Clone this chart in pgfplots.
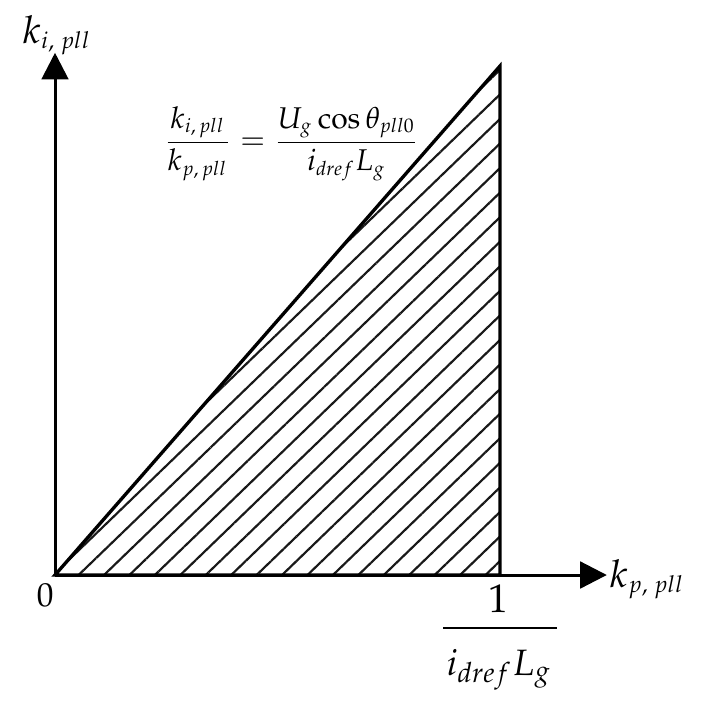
\documentclass[border=0pt]{standalone}
\usepackage{amsmath}
\usepackage{mathpazo}
\usepackage{pgfplots}
\pgfplotsset{compat=1.18}
\usetikzlibrary{arrows.meta, patterns.meta}
\DeclareMathSizes{11.5}{11.5}{7}{5}
\DeclareMathSizes{9}{9}{5.9}{4.5}

\begin{document}
\begin{tikzpicture}
\begin{axis}[
  x=133.5pt, y=152.7pt,
  xmin=0, xmax=1.240, ymin=0, ymax=1.026,
  axis lines=left,
  axis line style={line width=0.9pt, -{Triangle[width=8pt, length=8pt]}},
  xtick=\empty, ytick=\empty,
  clip=false
]
% stable region: triangle under k_i/k_p = U_g cos(theta)/(i_dref L_g)
\addplot[draw=black, line width=1pt,
  pattern={Lines[angle=44, distance=5.3pt, line width=0.65pt]}, pattern color=black!90]
  coordinates {(0,0) (1,1) (1,0)} -- cycle;

\node[anchor=base west, inner sep=0pt] at (axis cs:-0.074,1.045)
  {\fontsize{11.5}{14}\selectfont $k_{i,\;pll}$};
\node[anchor=base west, inner sep=0pt] at (axis cs:1.245,-0.024)
  {\fontsize{11.5}{14}\selectfont $k_{p,\;pll}$};
\node[anchor=base, inner sep=0pt] at (axis cs:-0.022,-0.061)
  {\fontsize{10}{12}\selectfont $0$};

% 1/(i_dref L_g) under x = 1
\node[anchor=base, inner sep=0pt] at (axis cs:0.9955,-0.0727)
  {\fontsize{12}{14}\selectfont $1$};
\draw[line width=0.6pt] (axis cs:0.872,-0.1041) -- (axis cs:1.128,-0.1041);
\node[anchor=base, inner sep=0pt] at (axis cs:0.998,-0.1965)
  {\fontsize{11}{13}\selectfont $i_{dref}L_g$};

\node[anchor=base west, inner sep=0pt] at (axis cs:0.2427,0.835)
  {\fontsize{9}{11}\selectfont $\dfrac{k_{i,\,pll}}{k_{p,\,pll}} = \dfrac{U_g\cos\theta_{pll0}}{i_{dref}L_g}$};

% page frame of the reference picture
\path (axis cs:-0.1236,-0.2456) rectangle (axis cs:1.4539,1.1297);
\end{axis}
\end{tikzpicture}
\end{document}
